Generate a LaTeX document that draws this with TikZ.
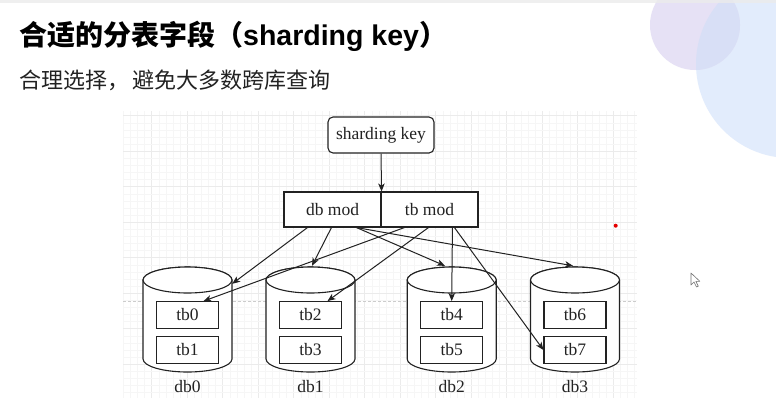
\documentclass[tikz,border=0pt]{standalone}
\usepackage{fontspec}
\setmainfont{Liberation Serif}
\newfontfamily\cjk{Noto Sans CJK SC}
\newfontfamily\lsans{Liberation Sans}
\usetikzlibrary{arrows.meta,calc}
\definecolor{gridminor}{HTML}{F6F6F6}
\definecolor{gridmajor}{HTML}{EBEBEB}
\definecolor{ink}{HTML}{222222}
\definecolor{lav}{HTML}{E6E1F5}
\definecolor{sky}{HTML}{E2ECFC}
\definecolor{overlap}{HTML}{D8DFF6}
\newcommand\drawcyl[2]{%
  \path[cyl] (#2-44.5,280) -- (#2-44.5,359)
    arc[start angle=180,end angle=360,x radius=44.5pt,y radius=13pt]
    -- (#2+44.5,280)
    arc[start angle=0,end angle=180,x radius=44.5pt,y radius=13pt] -- cycle;
  \draw[cyl] (#2,280) ellipse[x radius=44.5pt,y radius=13pt];
  \node[inner sep=0pt, minimum width=89pt, minimum height=105pt] (#1) at (#2,319.5) {};
}
\begin{document}
\begin{tikzpicture}[x=1pt,y=-1pt,
  box/.style={draw=ink, line width=1.1pt, fill=white, text=ink, font=\fontsize{17.5}{20}\selectfont, inner sep=0pt},
  conn/.style={draw=ink, line width=1pt, -{Stealth[length=8pt,width=6.5pt,inset=2.2pt]}},
  dblabel/.style={text=ink, font=\fontsize{17.5}{20}\selectfont, inner sep=0pt},
  cyl/.style={draw=ink, line width=1.1pt, fill=white}
]
\useasboundingbox (0,0) rectangle (776,408);
\fill[white] (0,0) rectangle (776,408);
% decorative circles
\fill[sky] (790,64) circle[radius=94pt];
\fill[lav] (695,25) circle[radius=45pt];
\begin{scope}
  \clip (790,64) circle[radius=94pt];
  \fill[overlap] (695,25) circle[radius=45pt];
\end{scope}
\fill[black!8, opacity=0.8] (0,0) rectangle (776,3);
% grid
\begin{scope}
  \clip (123,111) rectangle (637,398);
  \foreach \i in {-5,...,70} {
    \pgfmathsetmacro\xx{151.7+7.1*\i}
    \pgfmathtruncatemacro\m{mod(\i+100,5)}
    \ifnum\m=0
      \draw[gridmajor,line width=0.8pt] (\xx,111) -- (\xx,398);
    \else
      \draw[gridminor,line width=0.6pt] (\xx,111) -- (\xx,398);
    \fi
  }
  \foreach \j in {-1,...,41} {
    \pgfmathsetmacro\yy{115.7+7.1*\j}
    \pgfmathtruncatemacro\m{mod(\j+100,5)}
    \ifnum\m=0
      \draw[gridmajor,line width=0.8pt] (123,\yy) -- (637,\yy);
    \else
      \draw[gridminor,line width=0.6pt] (123,\yy) -- (637,\yy);
    \fi
  }
  \draw[black!20, line width=0.7pt, dash pattern=on 3pt off 2pt] (123,301) -- (637,301);
\end{scope}
% title
\node[anchor=west, inner sep=0pt, text=black] (title) at (19,36)
  {\cjk\bfseries\fontsize{28}{32}\selectfont 合适的分表字段（{\lsans\bfseries\fontsize{28.5}{32}\selectfont sharding key}）};
\node[anchor=west, inner sep=0pt, text=ink] (sub) at (19,80)
  {\cjk\fontsize{22}{25}\selectfont 合理选择，\hspace{3pt}避免大多数跨库查询};
% top nodes
\node[box, rounded corners=5pt, minimum width=106pt, minimum height=36pt] (sk) at (381,135) {sharding key};
\node[box, minimum width=97pt, minimum height=35pt] (dbm) at (332.5,209.5) {db mod};
\node[box, minimum width=97pt, minimum height=35pt] (tbm) at (429.5,209.5) {tb mod};
\draw[conn] (sk.south) -- (dbm.north east);
% cylinders
\drawcyl{db0}{187.5}
\drawcyl{db1}{310.5}
\drawcyl{db2}{451.7}
\drawcyl{db3}{575}
% tables
\foreach \n/\cx/\a/\b in {0/187.5/tb0/tb1, 1/310.5/tb2/tb3, 2/451.7/tb4/tb5, 3/575/tb6/tb7} {
  \node[box, minimum width=62pt, minimum height=26.7pt] (\a) at (\cx,315) {\a};
  \node[box, minimum width=62pt, minimum height=26.7pt] (\b) at (\cx,350) {\b};
  \node[dblabel] (lab\n) at (\cx,387) {db\n};
}
% connectors from db mod
\draw[conn] ($(dbm.south west)+(24,0)$) -- ($(db0.north east)+(0,17)$);
\draw[conn] ($(dbm.south west)+(48,0)$) -- ($(db1.north)+(1.5,-1)$);
\draw[conn] ($(dbm.south west)+(73,0)$) -- ($(db2.north)+(-6.7,-1)$);
\draw[conn] ($(dbm.south west)+(73,0)$) -- ($(db3.north)+(-2,-1)$);
% connectors from tb mod
\draw[conn] ($(tbm.south west)+(24,0)$) -- ($(tb0.north)+(16,0)$);
\draw[conn] ($(tbm.south west)+(48,0)$) -- ($(tb2.north)+(17,0)$);
\draw[conn] ($(tbm.south west)+(72,0)$) -- (tb4.north);
\draw[conn] ($(tbm.south west)+(74,0)$) -- (tb7.west);
% pointer dot and cursor
\fill[red!90!black] (615.7,225.7) circle[radius=2pt];
\filldraw[fill=white, draw=black!55, line width=0.6pt, line join=round]
  (691,273) -- (691,285) -- (694,282) -- (696.5,287) -- (698.3,286.2) -- (695.8,281.3) -- (699.8,281.3) -- cycle;
\end{tikzpicture}
\end{document}
